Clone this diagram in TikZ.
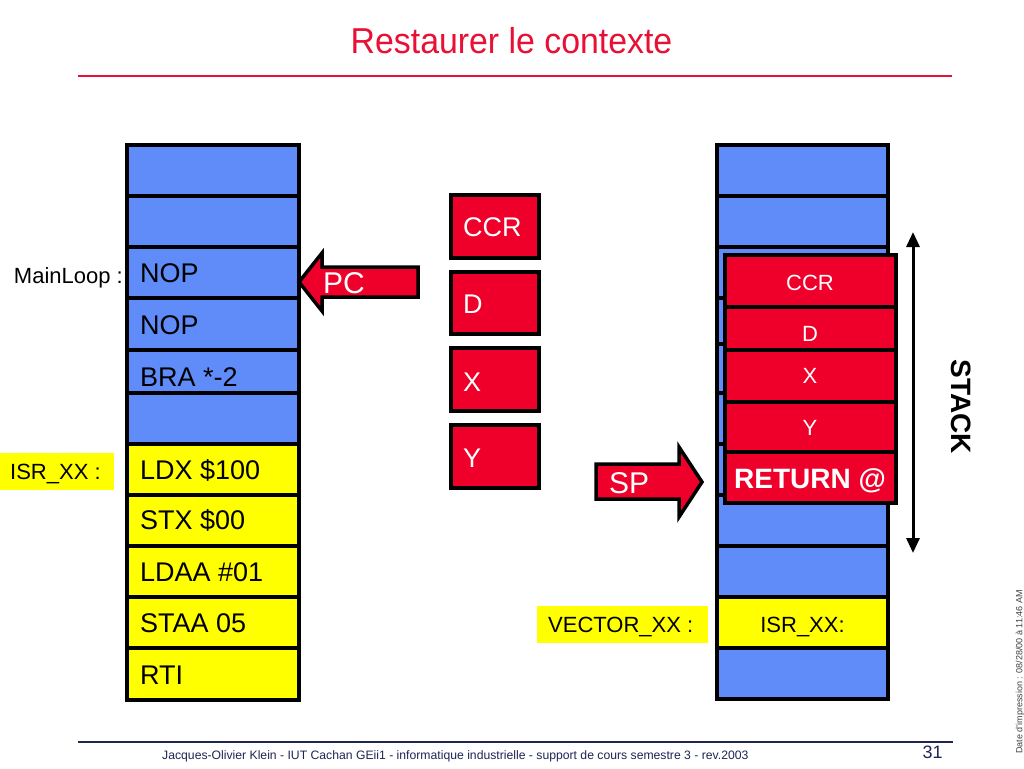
\documentclass[tikz,border=0pt]{standalone}
\usepackage{fontspec}
\setmainfont{Liberation Sans}
\usetikzlibrary{arrows.meta}
\definecolor{cellblue}{RGB}{96,140,250}
\definecolor{cellyellow}{RGB}{255,255,0}
\definecolor{regred}{RGB}{238,0,42}
\definecolor{titlered}{RGB}{232,16,52}
\definecolor{navy}{RGB}{30,38,84}
\newcommand{\myfs}[1]{\fontsize{#1pt}{#1pt}\selectfont}
\tikzset{
  cellbase/.style={draw=black, line width=4pt, inner sep=0pt, outer sep=0pt, anchor=north west},
  bcell/.style={cellbase, fill=cellblue},
  ycell/.style={cellbase, fill=cellyellow},
  rcell/.style={cellbase, fill=regred},
  instr/.style={inner sep=0pt, anchor=base west, font=\myfs{27}},
  lbl/.style={inner sep=0pt, font=\myfs{22}},
  wtxt/.style={inner sep=0pt, text=white},
  arrowshape/.style={fill=regred, draw=black, line width=3.5pt, line join=miter},
}
\begin{document}
\begin{tikzpicture}[x=1pt,y=-1pt]
\useasboundingbox (0,0) rectangle (1024,768);
\fill[white] (0,0) rectangle (1024,768);

% title
\node[inner sep=0pt, anchor=base, text=titlered, font=\myfs{36}, xscale=0.94] (title) at (511.5,53) {Restaurer le contexte};
\coordinate (tl1) at (78,76);
\coordinate (tl2) at (952,76);
\draw[titlered, line width=1.5pt] (tl1) -- (tl2);

% left column
\node[bcell, minimum width=172pt, minimum height=51pt] (L1) at (127,145) {};
\node[bcell, minimum width=172pt, minimum height=51pt] (L2) at (127,196) {};
\node[bcell, minimum width=172pt, minimum height=51pt] (L3) at (127,247) {};
\node[bcell, minimum width=172pt, minimum height=52pt] (L4) at (127,298) {};
\node[bcell, minimum width=172pt, minimum height=43pt] (L5) at (127,350) {};
\node[bcell, minimum width=172pt, minimum height=51pt] (L6) at (127,393) {};
\node[ycell, minimum width=172pt, minimum height=51pt] (L7) at (127,444) {};
\node[ycell, minimum width=172pt, minimum height=51pt] (L8) at (127,495) {};
\node[ycell, minimum width=172pt, minimum height=51pt] (L9) at (127,546) {};
\node[ycell, minimum width=172pt, minimum height=51pt] (L10) at (127,597) {};
\node[ycell, minimum width=172pt, minimum height=52pt] (L11) at (127,648) {};

\node[instr] (t3) at (140,282.5) {NOP};
\node[instr] (t4) at (140,334) {NOP};
\node[instr] (t5) at (140,386) {BRA *-2};
\node[instr] (t7) at (140,479) {LDX \$100};
\node[instr] (t8) at (140,529) {STX \$00};
\node[instr] (t9) at (140,581) {LDAA \#01};
\node[instr] (t10) at (140,632) {STAA 05};
\node[instr] (t11) at (140,684) {RTI};

\node[lbl, anchor=base east] (mainloop) at (123,283) {MainLoop :};
\node[fill=cellyellow, minimum width=114pt, minimum height=37pt, inner sep=0pt, anchor=north west] (isrbg) at (0,453) {};
\node[lbl, anchor=base west] (isr) at (10,479.5) {ISR\_XX :};

% PC arrow
\coordinate (pctip) at (299,282);
\draw[arrowshape] (pctip) -- (322,253) -- (322,267) -- (418,267) -- (418,297) -- (322,297) -- (322,311) -- cycle;
\node[wtxt, anchor=base west, font=\myfs{30}] (pc) at (323,293) {PC};

% registers
\node[rcell, minimum width=88pt, minimum height=63pt] (rCCR) at (451,195) {};
\node[rcell, minimum width=88pt, minimum height=62pt] (rD) at (451,272) {};
\node[rcell, minimum width=88pt, minimum height=63pt] (rX) at (451,348) {};
\node[rcell, minimum width=88pt, minimum height=63pt] (rY) at (451,425) {};
\node[wtxt, anchor=base west, font=\myfs{27}] (tCCR) at (463,236.5) {CCR};
\node[wtxt, anchor=base west, font=\myfs{27}] (tD) at (463,313) {D};
\node[wtxt, anchor=base west, font=\myfs{27}] (tX) at (463,391.5) {X};
\node[wtxt, anchor=base west, font=\myfs{27}] (tY) at (463,467.5) {Y};

% SP arrow
\coordinate (sptip) at (702,482);
\draw[arrowshape] (596,464) -- (679,464) -- (679,447) -- (sptip) -- (679,517) -- (679,499) -- (596,499) -- cycle;
\node[wtxt, anchor=base west, font=\myfs{30}] (sp) at (609,493) {SP};

% right column (memory / stack)
\node[bcell, minimum width=171pt, minimum height=51pt] (R1) at (717,145) {};
\node[bcell, minimum width=171pt, minimum height=51pt] (R2) at (717,196) {};
\node[bcell, minimum width=171pt, minimum height=51pt] (R3) at (717,247) {};
\node[bcell, minimum width=171pt, minimum height=46pt] (R4) at (717,298) {};
\node[bcell, minimum width=171pt, minimum height=49pt] (R5) at (717,344) {};
\node[bcell, minimum width=171pt, minimum height=51pt] (R6) at (717,393) {};
\node[bcell, minimum width=171pt, minimum height=51pt] (R7) at (717,444) {};
\node[bcell, minimum width=171pt, minimum height=51pt] (R8) at (717,495) {};
\node[bcell, minimum width=171pt, minimum height=51pt] (R9) at (717,546) {};
\node[ycell, minimum width=171pt, minimum height=51pt] (R10) at (717,597) {};
\node[bcell, minimum width=171pt, minimum height=51pt] (R11) at (717,648) {};
\node[lbl, anchor=base] (isrvec) at (802.5,632) {ISR\_XX:};

% stacked registers overlay
\node[rcell, minimum width=171pt, minimum height=52pt] (sCCR) at (725,255) {};
\node[rcell, minimum width=171pt, minimum height=43pt] (sD) at (725,307) {};
\node[rcell, minimum width=171pt, minimum height=52pt] (sX) at (725,350) {};
\node[rcell, minimum width=171pt, minimum height=50pt] (sY) at (725,402) {};
\node[rcell, minimum width=171pt, minimum height=51pt] (sRet) at (725,452) {};
\node[wtxt, anchor=base, font=\myfs{22}] (uCCR) at (810,290) {CCR};
\node[wtxt, anchor=base, font=\myfs{22}] (uD) at (810,341) {D};
\node[wtxt, anchor=base, font=\myfs{22}] (uX) at (810,383) {X};
\node[wtxt, anchor=base, font=\myfs{22}] (uY) at (810,435) {Y};
\node[wtxt, anchor=base, font=\myfs{28}\bfseries] (uRet) at (810,488) {RETURN @};

% vector label
\node[fill=cellyellow, minimum width=171pt, minimum height=37pt, inner sep=0pt, anchor=north west] (vecbg) at (537,606) {};
\node[lbl, anchor=base west] (vec) at (548,632.5) {VECTOR\_XX :};

% STACK arrow
\coordinate (stTop) at (913,232);
\coordinate (stBot) at (913,553);
\draw[line width=3pt, {Triangle[width=13pt,length=15pt]}-{Triangle[width=13pt,length=15pt]}] (stTop) -- (stBot);
\node[inner sep=0pt, rotate=-90, font=\myfs{28}\bfseries] (stack) at (961,407) {STACK};

% footer
\coordinate (fl1) at (78,742);
\coordinate (fl2) at (953,742);
\draw[navy, line width=1.5pt] (fl1) -- (fl2);
\node[inner sep=0pt, anchor=base west, text=navy, font=\myfs{12.2}] (foot) at (162,759) {Jacques-Olivier Klein - IUT Cachan GEii1 - informatique industrielle - support de cours semestre 3 - rev.2003};
\node[inner sep=0pt, anchor=base, text=navy, font=\myfs{18}] (page) at (932.5,758) {31};
\node[inner sep=0pt, rotate=90, text=black!75, font=\myfs{9}] (date) at (1020,672) {Date d'impression : 08/28/00 à 11:46 AM};
\end{tikzpicture}
\end{document}
